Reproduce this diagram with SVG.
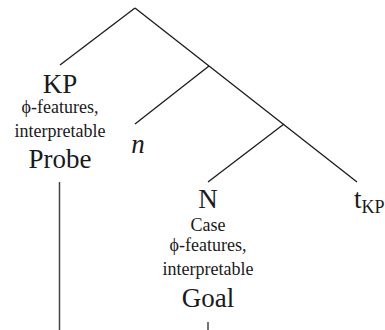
<svg xmlns="http://www.w3.org/2000/svg" width="385" height="330" viewBox="0 0 385 330">
<style>
.big{font-family:"Liberation Serif","Times New Roman",serif;font-size:27px;fill:#1a1a1a;text-anchor:middle}
.sm{font-family:"Liberation Serif","Times New Roman",serif;font-size:18px;fill:#1a1a1a;text-anchor:middle}
.br{stroke:#1a1a1a;stroke-width:1.3;fill:none}
.agree{stroke:#444;stroke-width:1.5;fill:none}
</style>
<rect width="385" height="330" fill="#fff"/>
<g id="connectors">
<line class="br" x1="135" y1="8" x2="60" y2="65"/>
<line class="br" x1="135" y1="8" x2="357" y2="182"/>
<line class="br" x1="209" y1="66" x2="135" y2="124"/>
<line class="br" x1="284" y1="124" x2="208" y2="182"/>
<line class="agree" x1="59.5" y1="182" x2="59.5" y2="330"/>
<line class="agree" x1="208" y1="322" x2="208" y2="330"/>
</g>
<g id="KP">
<text class="big" x="60" y="93">KP</text>
<text class="sm" x="60" y="113">ϕ-features,</text>
<text class="sm" x="60" y="137">interpretable</text>
<text class="big" x="60" y="168">Probe</text>
</g>
<g id="n">
<text class="big" x="138" y="153" font-style="italic">n</text>
</g>
<g id="N">
<text class="big" x="208" y="208">N</text>
<text class="sm" x="208" y="231">Case</text>
<text class="sm" x="208" y="251">ϕ-features,</text>
<text class="sm" x="208" y="275">interpretable</text>
<text class="big" x="208" y="307">Goal</text>
</g>
<g id="tKP">
<text class="big" x="354" y="208" style="text-anchor:start">t<tspan font-size="18" dy="5">KP</tspan></text>
</g>
</svg>
